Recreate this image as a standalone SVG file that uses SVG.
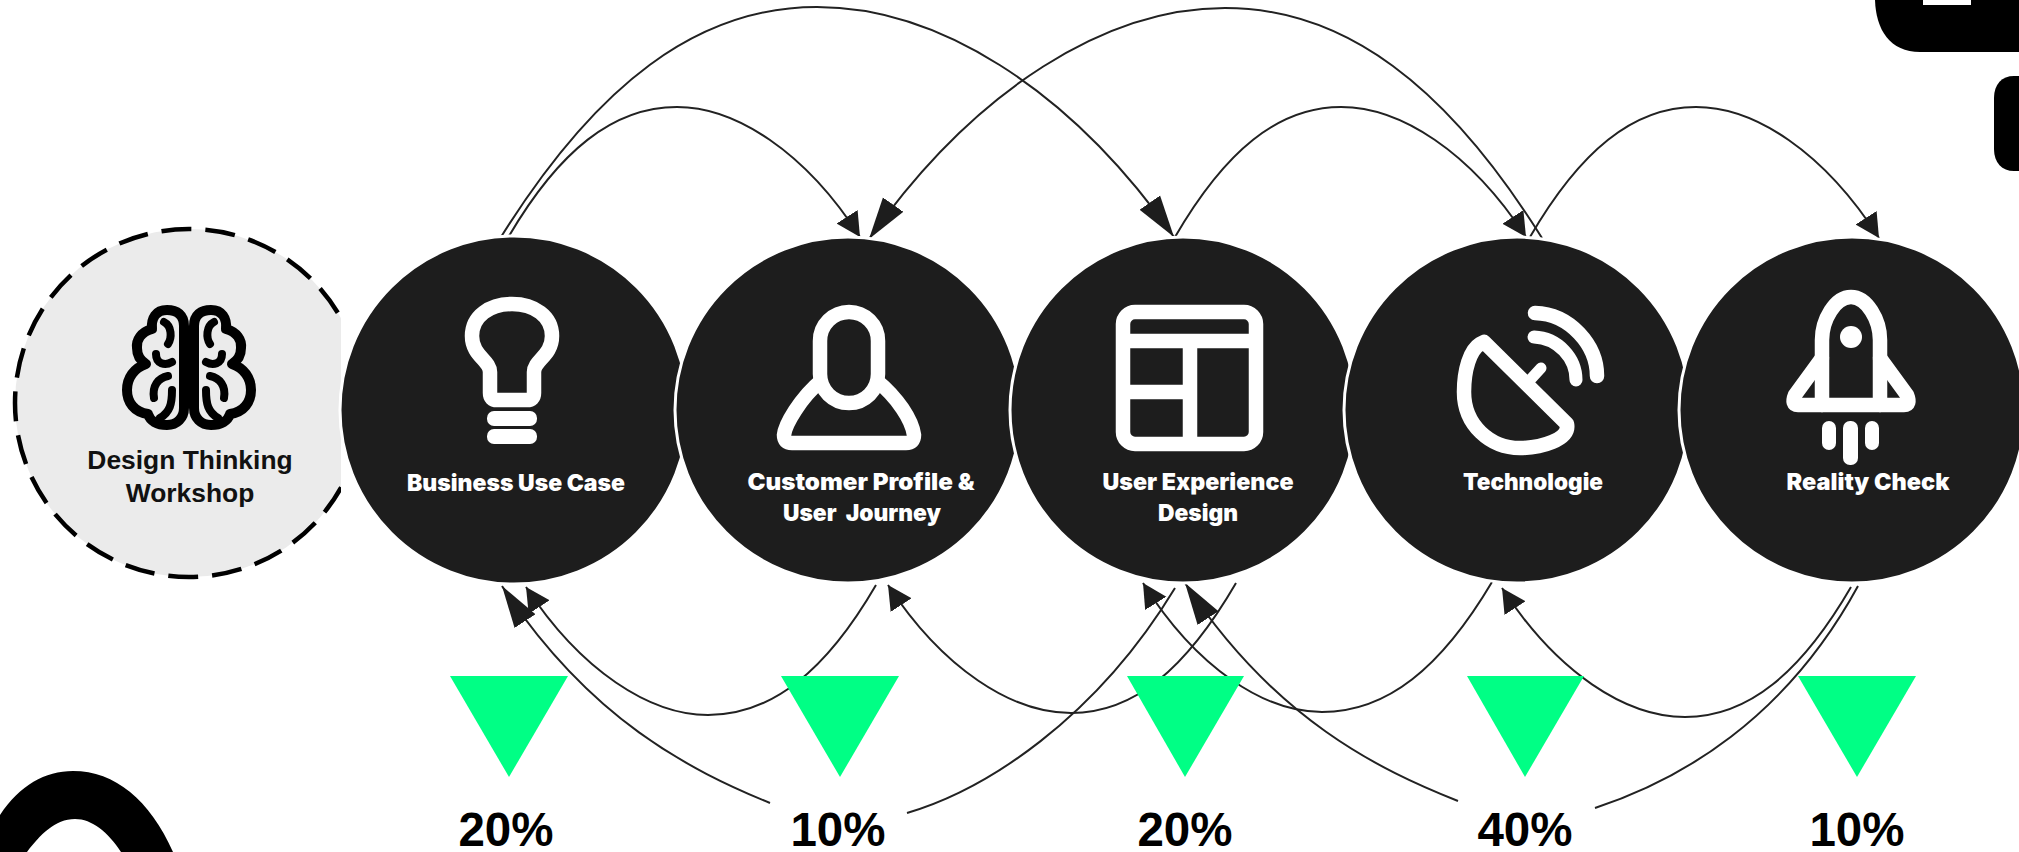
<svg xmlns="http://www.w3.org/2000/svg" width="2019" height="852" viewBox="0 0 2019 852">
<style>
.disc{fill:#1d1d1d;stroke:#fff;stroke-width:3}
.lbl{font-family:"Inter","Liberation Sans",sans-serif;font-weight:900;font-size:23px;fill:#fff;text-anchor:middle;white-space:pre}
.pct{font-family:"Liberation Sans",Arial,sans-serif;font-weight:700;font-size:47.500px;fill:#000;text-anchor:middle}
.ttl{font-family:"Liberation Sans",Arial,sans-serif;font-weight:700;font-size:26.400px;fill:#111;text-anchor:middle}
.ic{fill:none;stroke:#fff;stroke-width:14.500;stroke-linejoin:round;stroke-linecap:round}
.w{fill:#fff}
.tri{fill:#00ff85}
.blk{fill:#000}
.arc{fill:none;stroke:#222;stroke-width:2}
.big{marker-end:url(#big)}
.small{marker-end:url(#small)}
.br{fill:none;stroke:#000;stroke-width:10;stroke-linecap:round;stroke-linejoin:round}
</style>
<defs>
<marker id="big" markerUnits="userSpaceOnUse" markerWidth="44" markerHeight="28" viewBox="0 0 44 28" refX="42" refY="14" orient="auto"><path d="M42 14L0 1.5V26.500Z" fill="#1d1d1d"/></marker>
<marker id="small" markerUnits="userSpaceOnUse" markerWidth="26" markerHeight="28" viewBox="0 0 26 28" refX="24" refY="14" orient="auto"><path d="M24 14L0 1.5V26.500Z" fill="#1d1d1d"/></marker>
<clipPath id="clipW"><rect x="0" y="200" width="341" height="400"/></clipPath>
<g id="brainHalf">
<path class="br" d="M184 408L184 326C184 315 177 310 167 310C156 310 151 318 152 329C141 332 136 340 137 348C137 356 141 361 146 364C134 368 127 378 127 390C127 402 134 412 148 414C150 421 157 425 167 425C177 425 184 418 184 408Z"/>
<path class="br" style="stroke-width:8" d="M164 322C172 326 172 338 168 344M156 354C156 364 165 366 172 362M168 376C158 378 152 386 154 398M172 390C172 404 170 412 160 418"/>
</g>
</defs>
<rect width="2019" height="852" fill="#fff"/>
<g id="decor">
<path class="blk" d="M1875 0C1876 30 1890 52 1920 52H2019V0Z"/>
<rect class="w" x="1923" y="0" width="48" height="5"/>
<path class="blk" d="M2019 76H2014C2002 76 1994 84 1994 98V149C1994 163 2002 171 2014 171H2019Z"/>
<path class="blk" d="M0 815C20 785 45 771 73 771C115 771 150 800 173 852H121C108 832 92 819 75 819C55 819 40 835 27 852H0Z"/>
</g>
<g id="connectors">
<path class="arc big" d="M501 237C596 85 697 7 817 7C935 7 1067 85 1174 237"/>
<path class="arc big" d="M1542 238C1447 86 1345 8 1225 8C1108 8 976 87 869 239"/>
<path class="arc small" d="M509 236C559 151 613 107 677 107C735 107 805 151 860 237"/>
<path class="arc small" d="M1175 237C1225 151 1278 107 1341 107C1400 107 1470 151 1526 237"/>
<path class="arc small" d="M1530 237C1580 151 1633 107 1696 107C1755 107 1824 152 1879 238"/>
<path class="arc small" d="M876 585C826 671 772 715 708 715C650 715 581 671 526 587"/>
<path class="arc small" d="M1236 583C1186 669 1134 713 1071 713C1012 713 943 669 888 585"/>
<path class="arc small" d="M1492 582C1441 668 1387 712 1322 712C1265 712 1197 669 1143 583"/>
<path class="arc small" d="M1851 587C1801 673 1748 717 1685 717C1626 717 1557 673 1502 588"/>
<path class="arc big" d="M770 803C690 770 590 720 502 586"/>
<path class="arc big" d="M1458 801C1380 770 1275 720 1185 583"/>
<path class="arc" d="M907 813C985 790 1095 720 1175 588"/>
<path class="arc" d="M1595 808C1680 780 1785 720 1858 586"/>
</g>
<g id="node-workshop">
<g clip-path="url(#clipW)"><circle cx="189" cy="403" r="174" fill="#ebebeb" stroke="#000" stroke-width="4.500" stroke-dasharray="30 14"/></g>
<use href="#brainHalf"/>
<use href="#brainHalf" transform="translate(378 0) scale(-1 1)"/>
<text class="ttl" x="190" y="469">Design Thinking</text>
<text class="ttl" x="190" y="502">Workshop</text>
</g>
<g id="node-business">
<circle class="disc" cx="514" cy="410" r="174"/>
<path class="ic" d="M497 400H527Q534 400 534 393V372C534 360 552 356 552 336C552 316 534 304 512 304C490 304 472 316 472 336C472 356 490 360 490 372V393Q490 400 497 400Z"/>
<rect class="w" x="487" y="411" width="50" height="15" rx="7"/>
<rect class="w" x="487" y="429" width="50" height="15" rx="7"/>
<text class="lbl" x="516" y="491" textLength="218" lengthAdjust="spacingAndGlyphs">Business Use Case</text>
</g>
<g id="node-customer">
<circle class="disc" cx="848" cy="410" r="173"/>
<rect class="ic" x="820" y="312" width="58" height="91" rx="29"/>
<path class="ic" style="stroke-linecap:butt" d="M822 380C800 398 785 425 784 435Q784 443 792 443H906Q914 443 914 435C912 420 898 398 876 380"/>
<text class="lbl" x="861" y="490" textLength="227" lengthAdjust="spacingAndGlyphs">Customer Profile &amp;</text>
<text class="lbl" x="862" y="521" textLength="158" lengthAdjust="spacingAndGlyphs">User  Journey</text>
</g>
<g id="node-ux">
<circle class="disc" cx="1183" cy="410" r="173"/>
<rect class="ic" x="1123" y="312" width="133" height="132" rx="12"/>
<path class="ic" style="stroke-linecap:butt" d="M1123 341H1256M1190 341V444M1123 392H1190"/>
<text class="lbl" x="1198" y="490" textLength="191" lengthAdjust="spacingAndGlyphs">User Experience</text>
<text class="lbl" x="1198" y="521" textLength="80" lengthAdjust="spacingAndGlyphs">Design</text>
</g>
<g id="node-tech">
<circle class="disc" cx="1517" cy="410" r="173"/>
<path class="ic" d="M1480 344C1470 350 1464 370 1464 392C1464 425 1490 448 1520 448C1540 448 1570 440 1567 424L1484 342Z"/>
<path class="ic" style="stroke-width:11" d="M1530 380L1541 368"/>
<path class="ic" d="M1535 313C1570 314 1597 345 1597 376"/>
<path class="ic" style="stroke-width:13" d="M1534 337C1558 338 1576 358 1576 380"/>
<text class="lbl" x="1533" y="490" textLength="140" lengthAdjust="spacingAndGlyphs">Technologie</text>
</g>
<g id="node-reality">
<circle class="disc" cx="1852" cy="410" r="173"/>
<path class="ic" d="M1822 405V340C1822 320 1835 297 1851 297C1867 297 1880 320 1880 340V405"/>
<path class="ic" d="M1822 358L1795 395Q1791 405 1798 405H1904Q1911 405 1907 395L1880 358"/>
<circle class="w" cx="1851" cy="337" r="11"/>
<rect class="w" x="1822" y="421" width="14" height="29" rx="7"/>
<rect class="w" x="1843" y="421" width="15" height="44" rx="7"/>
<rect class="w" x="1865" y="421" width="14" height="29" rx="7"/>
<text class="lbl" x="1868" y="490" textLength="163" lengthAdjust="spacingAndGlyphs">Reality Check</text>
</g>
<g id="markers-pct">
<path class="tri" d="M450 676H568L509 777Z"/>
<path class="tri" d="M781 676H899L840 777Z"/>
<path class="tri" d="M1127 676H1244L1185 777Z"/>
<path class="tri" d="M1467 676H1584L1525 777Z"/>
<path class="tri" d="M1798 676H1916L1857 777Z"/>
<text class="pct" x="506" y="846">20%</text>
<text class="pct" x="838" y="846">10%</text>
<text class="pct" x="1185" y="846">20%</text>
<text class="pct" x="1525" y="846">40%</text>
<text class="pct" x="1857" y="846">10%</text>
</g>
</svg>
